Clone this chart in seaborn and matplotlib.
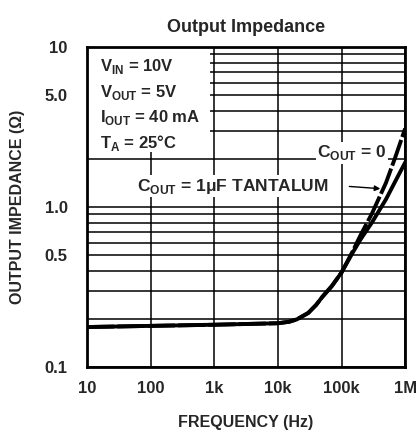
import matplotlib
matplotlib.use("Agg")
import matplotlib.pyplot as plt
import seaborn as sns
import pandas as pd
from matplotlib.patches import Rectangle

# values
freq = [10, 100, 1e3, 1e4, 1.5e4, 2e4, 3e4, 4e4, 5e4, 7e4, 1e5,
        1.5e5, 2e5, 3e5, 5e5, 7e5, 1e6]
z_cout0 = [0.178, 0.181, 0.184, 0.188, 0.192, 0.199, 0.218, 0.245, 0.275, 0.32, 0.39,
           0.53, 0.67, 0.91, 1.42, 2.05, 3.1]
z_tant = [0.178, 0.181, 0.184, 0.188, 0.192, 0.199, 0.218, 0.245, 0.275, 0.32, 0.39,
          0.52, 0.63, 0.80, 1.12, 1.45, 1.9]

x_ticks = [10, 100, 1e3, 1e4, 1e5, 1e6]
x_labels = ["10", "100", "1k", "10k", "100k", "1M"]
y_grid = [0.1, 0.2, 0.3, 0.4, 0.5, 0.6, 0.7, 0.8, 0.9, 1, 2, 3, 4, 5, 6, 7, 8, 9, 10]
y_labeled = {0.1: "0.1", 0.5: "0.5", 1: "1.0", 5: "5.0", 10: "10"}

sns.set_style("white")
plt.rcParams['font.family'] = ['Liberation Sans', 'DejaVu Sans']
plt.rcParams['font.weight'] = 'bold'

df = pd.DataFrame({"freq": freq + freq,
                   "z": z_cout0 + z_tant,
                   "cap": ["0"] * len(freq) + ["tant"] * len(freq)})

fig = plt.figure(figsize=(4.17, 4.36), dpi=100)
ax = fig.add_axes([0.2086, 0.158, 0.763, 0.734])

sns.lineplot(data=df[df.cap == "tant"], x="freq", y="z", ax=ax, color="black",
             linewidth=2.8, zorder=3)
sns.lineplot(data=df[df.cap == "0"], x="freq", y="z", ax=ax, color="black",
             linewidth=2.8, zorder=3, linestyle=(0, (7, 0.8)))

ax.set_xscale("log")
ax.set_yscale("log")
ax.set_xlim(10, 1e6)
ax.set_ylim(0.1, 10)

ax.set_xticks(x_ticks)
ax.set_xticklabels(x_labels)
ax.set_xticks([], minor=True)
ax.set_yticks(y_grid)
ax.set_yticklabels([y_labeled.get(v, "") for v in y_grid])
ax.set_yticks([], minor=True)
ax.tick_params(length=0, labelsize=12, pad=14)
for lab in ax.get_xticklabels() + ax.get_yticklabels():
    lab.set_fontweight("bold")
ax.tick_params(axis="x", pad=10)

ax.grid(True, which="major", color="black", linewidth=1.1)
ax.set_axisbelow(True)
for s in ax.spines.values():
    s.set_linewidth(2)
    s.set_color("black")

# white patch behind the conditions text
ax.add_patch(Rectangle((0, 0.672), 0.387, 0.328, transform=ax.transAxes,
                       facecolor="white", edgecolor="none", zorder=1))

cond = [r"V$_\mathregular{IN}$ = 10V", r"V$_\mathregular{OUT}$ = 5V",
        r"I$_\mathregular{OUT}$ = 40 mA", r"T$_\mathregular{A}$ = 25°C"]
for i, t in enumerate(cond):
    ax.text(0.04, 0.938 - i * 0.079, t, transform=ax.transAxes, fontsize=12,
            fontweight="bold", va="center", ha="left", zorder=4)

ax.text(4.13e4, 2.18, r"C$_\mathregular{OUT}$ = 0", fontsize=12.5,
        fontweight="bold", va="center", ha="left", zorder=4,
        bbox=dict(facecolor="white", edgecolor="none", pad=1))
ax.text(61, 1.35, r"C$_\mathregular{OUT}$ = 1μF TANTALUM", fontsize=12.5,
        fontweight="bold", va="center", ha="left", zorder=4,
        bbox=dict(facecolor="white", edgecolor="none", pad=1))
ax.annotate("", xy=(4.5e5, 1.30), xytext=(1.2e5, 1.35),
            arrowprops=dict(arrowstyle="-|>", color="black", lw=1, mutation_scale=8),
            zorder=4)

ax.set_xlabel("FREQUENCY (Hz)", fontsize=11.5, fontweight="bold", labelpad=14)
ax.set_ylabel("OUTPUT IMPEDANCE (Ω)", fontsize=11.5, fontweight="bold", labelpad=14)
ax.set_title("Output Impedance", fontsize=13, fontweight="bold", pad=11)

fig.savefig("out.png", dpi=100)
